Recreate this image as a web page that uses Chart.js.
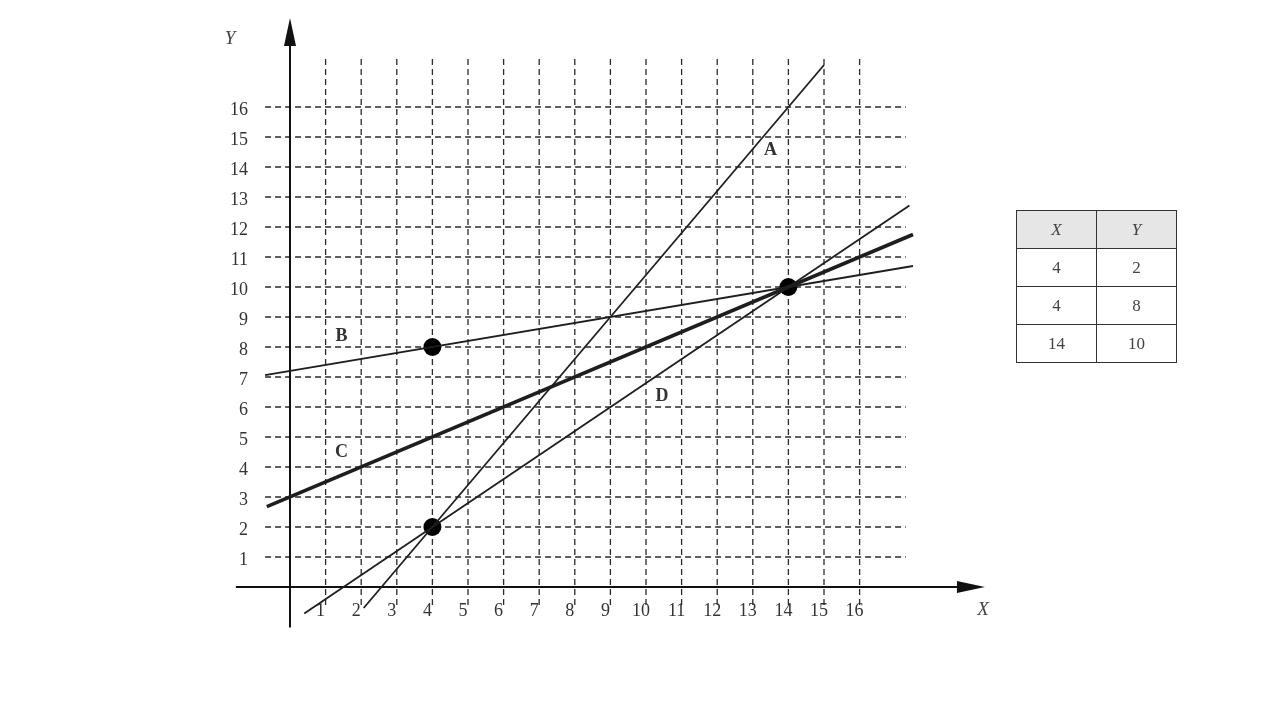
<!DOCTYPE html>
<html>
<head>
<meta charset="utf-8">
<script src="https://cdn.jsdelivr.net/npm/chart.js@4.4.0/dist/chart.umd.min.js"></script>
<style>
  body { margin: 0; background: #fff; }
  #wrap { position: relative; width: 1280px; height: 717px; }
  #chart { position: absolute; left: 0; top: 0; }
  #tbl { position: absolute; left: 1016px; top: 210px; border-collapse: collapse;
         font-family: "Liberation Serif", "Times New Roman", serif; font-size: 17px; color: #444; }
  #tbl td, #tbl th { border: 1.5px solid #333; width: 79px; height: 37px; padding: 0;
                     text-align: center; font-weight: normal; }
  #tbl th { background: #e6e6e6; font-style: italic; }
</style>
</head>
<body>
<div id="wrap">
  <canvas id="chart" width="1280" height="717"></canvas>
  <table id="tbl"></table>
</div>
<script>
// tick labels
const xTicks = [1, 2, 3, 4, 5, 6, 7, 8, 9, 10, 11, 12, 13, 14, 15, 16];
const yTicks = [1, 2, 3, 4, 5, 6, 7, 8, 9, 10, 11, 12, 13, 14, 15, 16];

// the marked points
const dotsX = [4, 4, 14];
const dotsY = [2, 8, 10];

// line end points
const lineAx = [2.07, 15];   const lineAy = [-0.7, 17.4];
const lineBx = [-0.7, 17.5]; const lineBy = [7.06, 10.7];
const lineCx = [-0.65, 17.5]; const lineCy = [2.68, 11.75];
const lineDx = [0.4, 17.4];  const lineDy = [-0.88, 12.72];

// line names and where they sit
const lineNames = ['A', 'B', 'C', 'D'];
const nameX = [13.5, 1.45, 1.45, 10.45];
const nameY = [14.55, 8.35, 4.5, 6.35];

// table on the right
const tableHead = ['X', 'Y'];
const tableX = [4, 4, 14];
const tableY = [2, 8, 10];

const ink = '#1e1e1e';
const serif = '"Liberation Serif", "Times New Roman", serif';

function pts(xs, ys) {
  return xs.map((x, i) => ({ x: x, y: ys[i] }));
}

function lineSet(xs, ys, width) {
  return {
    data: pts(xs, ys),
    showLine: true,
    borderColor: ink,
    borderWidth: width,
    pointRadius: 0,
    fill: false
  };
}

// grid, axes, arrows and texts
const sketchPlugin = {
  id: 'sketch',
  beforeDatasetsDraw(chart) {
    const ctx = chart.ctx;
    const xs = chart.scales.x, ys = chart.scales.y;
    ctx.save();
    ctx.strokeStyle = '#2a2a2a';
    ctx.lineWidth = 1.3;
    ctx.setLineDash([6, 4]);
    xTicks.forEach(v => {
      const px = xs.getPixelForValue(v);
      ctx.beginPath();
      ctx.moveTo(px, ys.getPixelForValue(17.6));
      ctx.lineTo(px, ys.getPixelForValue(-0.6));
      ctx.stroke();
    });
    yTicks.forEach(v => {
      const py = ys.getPixelForValue(v);
      ctx.beginPath();
      ctx.moveTo(xs.getPixelForValue(-0.7), py);
      ctx.lineTo(xs.getPixelForValue(17.3), py);
      ctx.stroke();
    });
    ctx.setLineDash([]);

    // axes
    const x0 = xs.getPixelForValue(0), y0 = ys.getPixelForValue(0);
    ctx.strokeStyle = '#111';
    ctx.fillStyle = '#111';
    ctx.lineWidth = 2;
    const yTop = ys.getPixelForValue(18.97);
    ctx.beginPath();
    ctx.moveTo(x0, ys.getPixelForValue(-1.35));
    ctx.lineTo(x0, yTop + 20);
    ctx.stroke();
    ctx.beginPath();
    ctx.moveTo(x0, yTop);
    ctx.lineTo(x0 - 6, yTop + 28);
    ctx.lineTo(x0 + 6, yTop + 28);
    ctx.closePath();
    ctx.fill();

    const xEnd = xs.getPixelForValue(19.52);
    ctx.beginPath();
    ctx.moveTo(xs.getPixelForValue(-1.52), y0);
    ctx.lineTo(xEnd - 20, y0);
    ctx.stroke();
    ctx.beginPath();
    ctx.moveTo(xEnd, y0);
    ctx.lineTo(xEnd - 28, y0 - 6);
    ctx.lineTo(xEnd - 28, y0 + 6);
    ctx.closePath();
    ctx.fill();
    ctx.restore();
  },
  afterDraw(chart) {
    const ctx = chart.ctx;
    const xs = chart.scales.x, ys = chart.scales.y;
    const x0 = xs.getPixelForValue(0), y0 = ys.getPixelForValue(0);
    ctx.save();
    ctx.fillStyle = '#333';
    ctx.font = '18px ' + serif;
    ctx.textBaseline = 'middle';
    ctx.textAlign = 'right';
    yTicks.forEach(v => {
      ctx.fillText(String(v), x0 - 42, ys.getPixelForValue(v) + 3);
    });
    ctx.textAlign = 'center';
    xTicks.forEach(v => {
      ctx.fillText(String(v), xs.getPixelForValue(v) - 5, y0 + 24);
    });

    ctx.font = 'italic 19px ' + serif;
    ctx.fillStyle = '#444';
    ctx.fillText('Y', 230, 39);
    ctx.fillText('X', 983, 610);

    ctx.font = 'bold 18px ' + serif;
    ctx.fillStyle = '#333';
    lineNames.forEach((n, i) => {
      ctx.fillText(n, xs.getPixelForValue(nameX[i]), ys.getPixelForValue(nameY[i]));
    });
    ctx.restore();
  }
};

document.addEventListener('DOMContentLoaded', () => {
  // build the table
  const tbl = document.getElementById('tbl');
  let html = '<tr>' + tableHead.map(h => '<th>' + h + '</th>').join('') + '</tr>';
  tableX.forEach((x, i) => {
    html += '<tr><td>' + x + '</td><td>' + tableY[i] + '</td></tr>';
  });
  tbl.innerHTML = html;

  new Chart(document.getElementById('chart'), {
    type: 'scatter',
    data: {
      datasets: [
        lineSet(lineAx, lineAy, 1.8),
        lineSet(lineBx, lineBy, 1.8),
        lineSet(lineCx, lineCy, 3.6),
        lineSet(lineDx, lineDy, 1.8),
        {
          data: pts(dotsX, dotsY),
          pointRadius: 9,
          pointBackgroundColor: '#000',
          pointBorderWidth: 0,
          showLine: false
        }
      ]
    },
    options: {
      responsive: false,
      animation: false,
      clip: false,
      layout: { autoPadding: false, padding: { left: 218.8, right: 242.4, top: 2, bottom: 70 } },
      plugins: { legend: { display: false }, tooltip: { enabled: false } },
      scales: {
        x: { type: 'linear', min: -2, max: 21, display: false },
        y: { type: 'linear', min: -2, max: 19.5, display: false }
      }
    },
    plugins: [sketchPlugin]
  });
});
</script>
</body>
</html>
